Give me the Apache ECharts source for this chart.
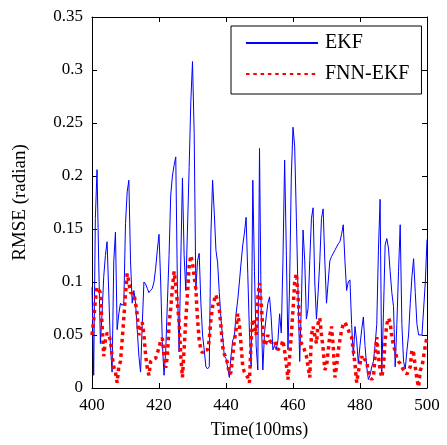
<!DOCTYPE html>
<html>
<head>
<meta charset="utf-8">
<script src="https://cdn.jsdelivr.net/npm/echarts@6/dist/echarts.min.js"></script>
<style>
html,body{margin:0;padding:0;background:#fff;}
#chart{width:447px;height:445px;}
</style>
</head>
<body>
<div id="chart"></div>
<script>
// Sample times: start and step (100 ms units)
const timeStart = 400;
const timeStep = 0.5;
const xTicks = [400, 420, 440, 460, 480, 500];
const yTicks = [0, 0.05, 0.1, 0.15, 0.2, 0.25, 0.3, 0.35];
const seriesNames = ['EKF', 'FNN-EKF'];

const ekf = [
  0.095, 0.012, 0.16, 0.206, 0.12, 0.042, 0.07, 0.105, 0.125, 0.138,
  0.09, 0.04, 0.015, 0.12, 0.147, 0.055, 0.07, 0.08, 0.078, 0.08,
  0.155, 0.185, 0.196, 0.12, 0.08, 0.092, 0.08, 0.055, 0.03, 0.015,
  0.06, 0.1, 0.098, 0.094, 0.09, 0.092, 0.094, 0.1, 0.113, 0.13,
  0.145, 0.1, 0.043, 0.012, 0.035, 0.08, 0.125, 0.182, 0.2, 0.21,
  0.218, 0.094, 0.034, 0.12, 0.198, 0.125, 0.092, 0.15, 0.208, 0.27,
  0.308, 0.24, 0.092, 0.12, 0.127, 0.08, 0.05, 0.036, 0.02, 0.018,
  0.02, 0.146, 0.196, 0.165, 0.13, 0.118, 0.09, 0.065, 0.048, 0.03,
  0.028, 0.027, 0.01, 0.03, 0.045, 0.048, 0.07, 0.083, 0.1, 0.118,
  0.135, 0.146, 0.161, 0.108, 0.052, 0.02, 0.196, 0.11, 0.04, 0.017,
  0.226, 0.07, 0.017, 0.052, 0.067, 0.08, 0.086, 0.066, 0.036, 0.04,
  0.036, 0.045, 0.07, 0.052, 0.12, 0.215, 0.13, 0.036, 0.1, 0.2,
  0.246, 0.228, 0.161, 0.09, 0.025, 0.08, 0.149, 0.12, 0.065, 0.075,
  0.12, 0.16, 0.17, 0.1, 0.065, 0.09, 0.12, 0.16, 0.169, 0.12,
  0.08, 0.1, 0.12, 0.124, 0.127, 0.13, 0.133, 0.136, 0.138, 0.145,
  0.154, 0.12, 0.092, 0.1, 0.102, 0.06, 0.03, 0.058, 0.045, 0.023,
  0.04, 0.055, 0.067, 0.04, 0.02, 0.008, 0.012, 0.02, 0.025, 0.04,
  0.06, 0.13, 0.178, 0.015, 0.07, 0.135, 0.141, 0.132, 0.11, 0.09,
  0.077, 0.02, 0.06, 0.11, 0.154, 0.06, 0.025, 0.018, 0.035, 0.05,
  0.08, 0.105, 0.122, 0.09, 0.06, 0.05, 0.05, 0.05, 0.05, 0.1,
  0.14
];

const fnnEkf = [
  0.05, 0.064, 0.083, 0.095, 0.095, 0.09, 0.089, 0.03, 0.045, 0.052,
  0.05, 0.045, 0.03, 0.02, 0.015, 0.005, 0.02, 0.025, 0.045, 0.066,
  0.089, 0.108, 0.1, 0.09, 0.089, 0.089, 0.08, 0.069, 0.05, 0.05,
  0.062, 0.05, 0.031, 0.019, 0.012, 0.025, 0.027, 0.028, 0.028, 0.033,
  0.038, 0.045, 0.047, 0.03, 0.019, 0.03, 0.06, 0.075, 0.094, 0.11,
  0.097, 0.08, 0.062, 0.03, 0.01, 0.01, 0.064, 0.089, 0.115, 0.125,
  0.118, 0.105, 0.093, 0.065, 0.045, 0.036, 0.033, 0.036, 0.036, 0.036,
  0.045, 0.065, 0.077, 0.083, 0.088, 0.089, 0.075, 0.058, 0.039, 0.032,
  0.028, 0.023, 0.013, 0.015, 0.03, 0.045, 0.055, 0.07, 0.06, 0.04,
  0.02, 0.015, 0.015, 0.01, 0.005, 0.045, 0.065, 0.06, 0.05, 0.085,
  0.099, 0.08, 0.055, 0.04, 0.043, 0.05, 0.045, 0.043, 0.043, 0.044,
  0.04, 0.036, 0.036, 0.04, 0.045, 0.035, 0.023, 0.008, 0.03, 0.05,
  0.074, 0.1, 0.108, 0.086, 0.06, 0.042, 0.04, 0.035, 0.03, 0.02,
  0.01, 0.05, 0.058, 0.05, 0.042, 0.061, 0.066, 0.05, 0.037, 0.017,
  0.02, 0.035, 0.05, 0.058, 0.04, 0.01, 0.02, 0.035, 0.045, 0.055,
  0.06, 0.062, 0.062, 0.055, 0.05, 0.048, 0.035, 0.023, 0.005, 0.015,
  0.023, 0.03, 0.025, 0.027, 0.025, 0.015, 0.01, 0.008, 0.01, 0.03,
  0.048, 0.03, 0.017, 0.01, 0.02, 0.045, 0.06, 0.066, 0.062, 0.048,
  0.04, 0.035, 0.028, 0.025, 0.023, 0.02, 0.017, 0.015, 0.013, 0.012,
  0.02, 0.036, 0.033, 0.02, 0.008, 0.001, 0.017, 0.02, 0.03, 0.04,
  0.048
];

function pairs(vals) {
  return vals.map((v, i) => [timeStart + i * timeStep, v]);
}

const FONT = '"Liberation Serif", "Times New Roman", serif';
const xMin = xTicks[0], xMax = xTicks[xTicks.length - 1], xInt = xTicks[1] - xTicks[0];
const yMin = yTicks[0], yMax = yTicks[yTicks.length - 1], yInt = yTicks[1] - yTicks[0];

const axisCommon = {
  axisLine: { show: true, onZero: false, lineStyle: { color: '#000', width: 1 } },
  axisTick: { show: true, inside: true, length: 5, lineStyle: { color: '#000' } },
  splitLine: { show: false }
};

const chart = echarts.init(document.getElementById('chart'), null, { renderer: 'canvas' });
chart.setOption({
  animation: false,
  backgroundColor: '#fff',
  grid: { left: 92, right: 20, top: 17, bottom: 57, containLabel: false },
  legend: {
    orient: 'vertical',
    left: 231,
    top: 26,
    padding: [7, 12, 10, 14],
    itemGap: 11,
    itemWidth: 72,
    itemHeight: 14,
    backgroundColor: '#fff',
    borderColor: '#000',
    borderWidth: 1,
    itemStyle: { opacity: 0, borderWidth: 0 },
    textStyle: { fontFamily: FONT, fontSize: 20, color: '#000', padding: [0, 0, 0, 2] },
    data: seriesNames
  },
  xAxis: [
    Object.assign({
      type: 'value', min: xMin, max: xMax, interval: xInt, position: 'bottom',
      name: 'Time(100ms)', nameLocation: 'middle', nameGap: 33,
      nameTextStyle: { fontFamily: FONT, fontSize: 18, color: '#000' },
      axisLabel: { fontFamily: FONT, fontSize: 17, color: '#000', margin: 9 }
    }, axisCommon),
    Object.assign({
      type: 'value', min: xMin, max: xMax, interval: xInt, position: 'top',
      axisLabel: { show: false }
    }, axisCommon)
  ],
  yAxis: [
    Object.assign({
      type: 'value', min: yMin, max: yMax, interval: yInt, position: 'left',
      name: 'RMSE (radian)', nameLocation: 'middle', nameGap: 62,
      nameTextStyle: { fontFamily: FONT, fontSize: 19, color: '#000' },
      axisLabel: { fontFamily: FONT, fontSize: 17, color: '#000', margin: 9 }
    }, axisCommon),
    Object.assign({
      type: 'value', min: yMin, max: yMax, interval: yInt, position: 'right',
      axisLabel: { show: false }
    }, axisCommon)
  ],
  series: [
    {
      name: seriesNames[0], type: 'line', xAxisIndex: 0, yAxisIndex: 0,
      data: pairs(ekf), showSymbol: false, symbol: 'none',
      lineStyle: { color: '#0000ff', width: 1 }, itemStyle: { color: '#0000ff' }
    },
    {
      name: seriesNames[1], type: 'line', xAxisIndex: 0, yAxisIndex: 0,
      data: pairs(fnnEkf), showSymbol: false, symbol: 'none',
      lineStyle: { color: '#ff0000', width: 3.5, type: [3.5, 3.8] }, itemStyle: { color: '#ff0000' }
    }
  ]
});
</script>
</body>
</html>
